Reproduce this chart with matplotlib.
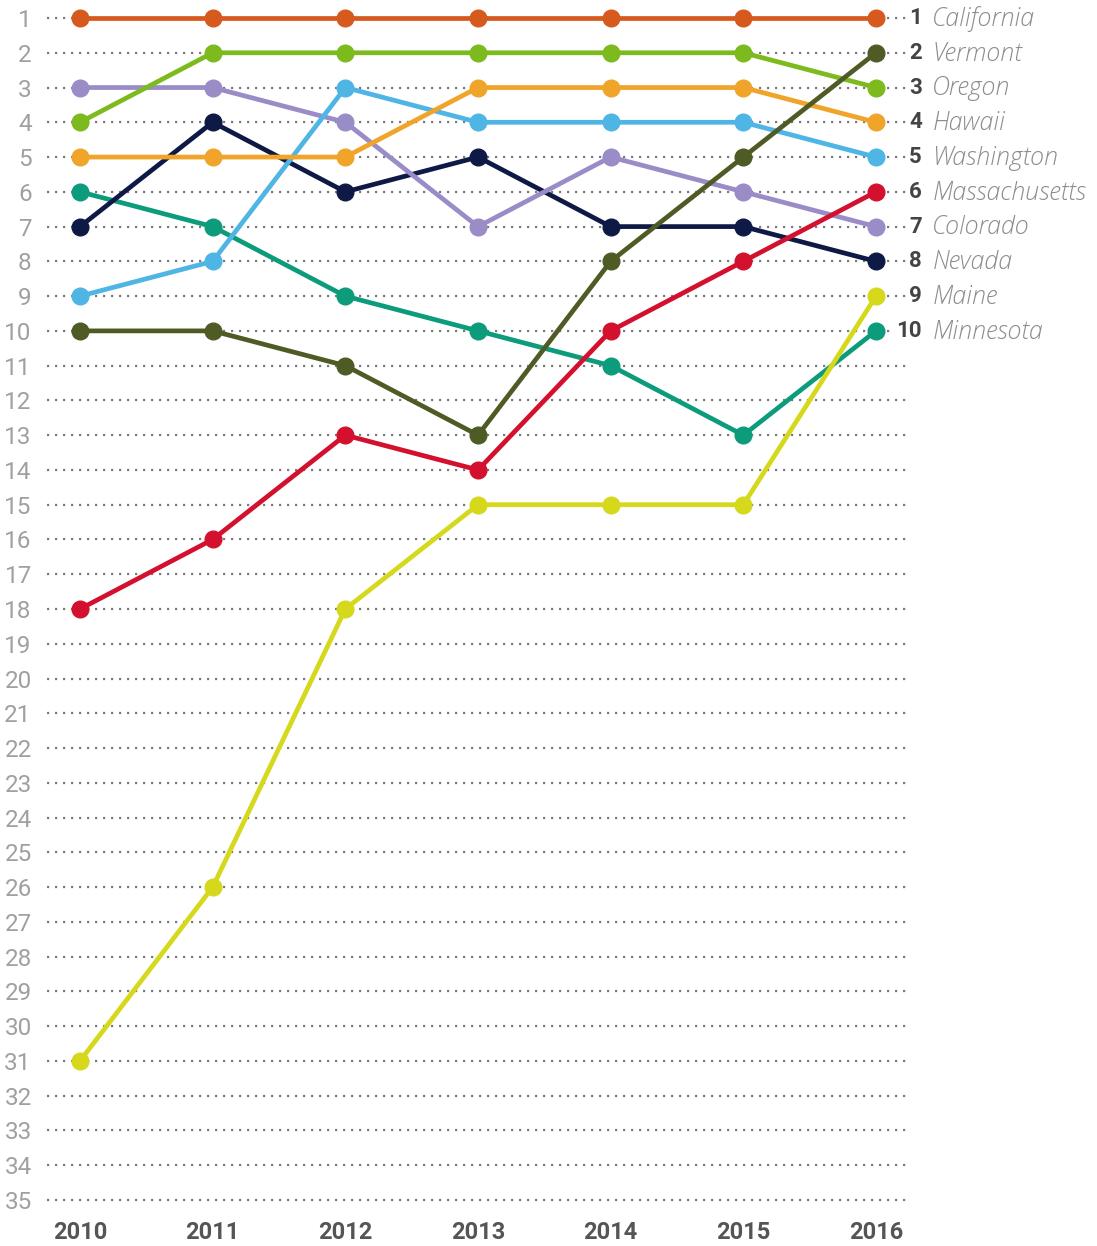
import matplotlib
matplotlib.use("Agg")
import matplotlib.pyplot as plt

years = [2010, 2011, 2012, 2013, 2014, 2015, 2016]

states = ["California", "Vermont", "Oregon", "Hawaii", "Washington",
          "Massachusetts", "Colorado", "Nevada", "Maine", "Minnesota"]

california    = [1, 1, 1, 1, 1, 1, 1]
vermont       = [10, 10, 11, 13, 8, 5, 2]
oregon        = [4, 2, 2, 2, 2, 2, 3]
hawaii        = [5, 5, 5, 3, 3, 3, 4]
washington    = [9, 8, 3, 4, 4, 4, 5]
massachusetts = [18, 16, 13, 14, 10, 8, 6]
colorado      = [3, 3, 4, 7, 5, 6, 7]
nevada        = [7, 4, 6, 5, 7, 7, 8]
maine         = [31, 26, 18, 15, 15, 15, 9]
minnesota     = [6, 7, 9, 10, 11, 13, 10]

ranks = [california, vermont, oregon, hawaii, washington,
         massachusetts, colorado, nevada, maine, minnesota]

colors = ["#D65A1E", "#4E5B24", "#7DBA1E", "#F0A42A", "#4FB5E5",
          "#D3112E", "#9A8CC6", "#0E1A45", "#D5D81B", "#0C9C7C"]

rank_ticks = list(range(1, 36))

fig = plt.figure(figsize=(10.97, 12.46), dpi=100)
ax = fig.add_axes([47/1097, 1 - 1210/1246, (906 - 47)/1097, 1205/1246])

# draw last-ranked first so the leaders sit on top
for name, r, c in reversed(list(zip(states, ranks, colors))):
    ax.plot(years, r, color=c, lw=3.4, marker="o", ms=12, zorder=3,
            solid_capstyle="round")
    ax.annotate(str(r[-1]), xy=(years[-1], r[-1]), xytext=(33, 0),
                textcoords="offset points", ha="right", va="center",
                fontsize=16, fontweight="bold", color="#444444",
                family="Roboto",
                bbox=dict(boxstyle="square,pad=0.05", fc="white", ec="none"),
                annotation_clip=False)
    ax.annotate(name, xy=(years[-1], r[-1]), xytext=(40.5, -1),
                textcoords="offset points", ha="left", va="center",
                fontsize=18, style="italic", fontweight="light",
                color="#8c8c8c", family="Open Sans", annotation_clip=False)

ax.set_xlim(2009.751, 2016.226)
ax.set_ylim(35.288, 0.626)
ax.set_xticks(years)
ax.set_xticklabels([str(y) for y in years], fontsize=17, fontweight="bold",
                   color="#555555", family="Roboto")
ax.set_yticks(rank_ticks)
ax.set_yticklabels([str(t) for t in rank_ticks], fontsize=17.5,
                   color="#a0a0a0", family="Roboto")
ax.tick_params(axis="both", length=0)
ax.tick_params(axis="y", pad=11)
ax.tick_params(axis="x", pad=8)
ax.yaxis.grid(True, linestyle=(0, (1, 2.6)), lw=1.6, color="#7a7a7a")
ax.set_axisbelow(True)
for s in ax.spines.values():
    s.set_visible(False)

fig.savefig("out.png", dpi=100)
